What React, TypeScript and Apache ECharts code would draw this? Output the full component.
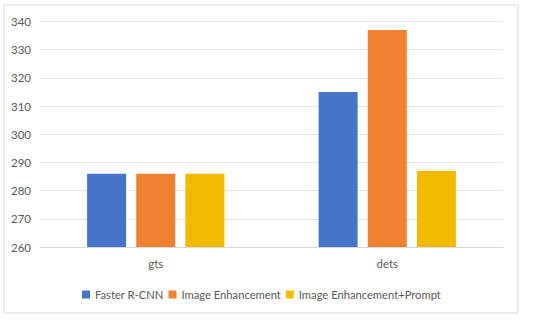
import React, { useEffect, useRef } from "react";
import * as echarts from "echarts";

const categories = ["gts", "dets"];
const seriesNames = ["Faster R-CNN", "Image Enhancement", "Image Enhancement+Prompt"];
const fasterRcnn = [286, 315];
const imageEnhancement = [286, 337];
const imageEnhancementPrompt = [286, 287];
const colors = ["#4674C9", "#EE8230", "#F2BA00"];

export default function App() {
  const ref = useRef<HTMLDivElement>(null);
  useEffect(() => {
    document.body.style.margin = "0";
    const chart = echarts.init(ref.current!, null, { renderer: "svg" });
    const font = "Lato, 'Open Sans', sans-serif";
    const values = [fasterRcnn, imageEnhancement, imageEnhancementPrompt];
    chart.setOption({
      animation: false,
      color: colors,
      graphic: [
        {
          type: "rect",
          shape: { x: 4, y: 5, width: 514, height: 308 },
          style: { fill: "none", stroke: "#d9d9d9", lineWidth: 1 },
        },
      ],
      grid: { left: 40, right: 47, top: 21.5, bottom: 73 },
      legend: {
        bottom: 20,
        left: 82,
        padding: 0,
        itemWidth: 8,
        itemHeight: 8,
        itemGap: 5,
        icon: "rect",
        textStyle: { color: "#595959", fontSize: 11.2, fontFamily: font },
        data: seriesNames,
      },
      xAxis: {
        type: "category",
        data: categories,
        axisTick: { show: false },
        axisLine: { lineStyle: { color: "#d9d9d9" } },
        axisLabel: { color: "#595959", fontSize: 11.5, fontFamily: font, margin: 10 },
      },
      yAxis: {
        type: "value",
        min: 260,
        max: 340,
        interval: 10,
        axisLine: { show: false },
        axisTick: { show: false },
        splitLine: { lineStyle: { color: "#e6e6e6" } },
        axisLabel: { color: "#595959", fontSize: 11.5, fontFamily: font, margin: 9 },
      },
      series: seriesNames.map((name, i) => ({
        name,
        type: "bar",
        data: values[i],
        barWidth: 39,
        barGap: "26%",
        itemStyle: { color: colors[i] },
      })),
    });
    return () => chart.dispose();
  }, []);
  return <div ref={ref} style={{ width: 550, height: 320 }} />;
}
